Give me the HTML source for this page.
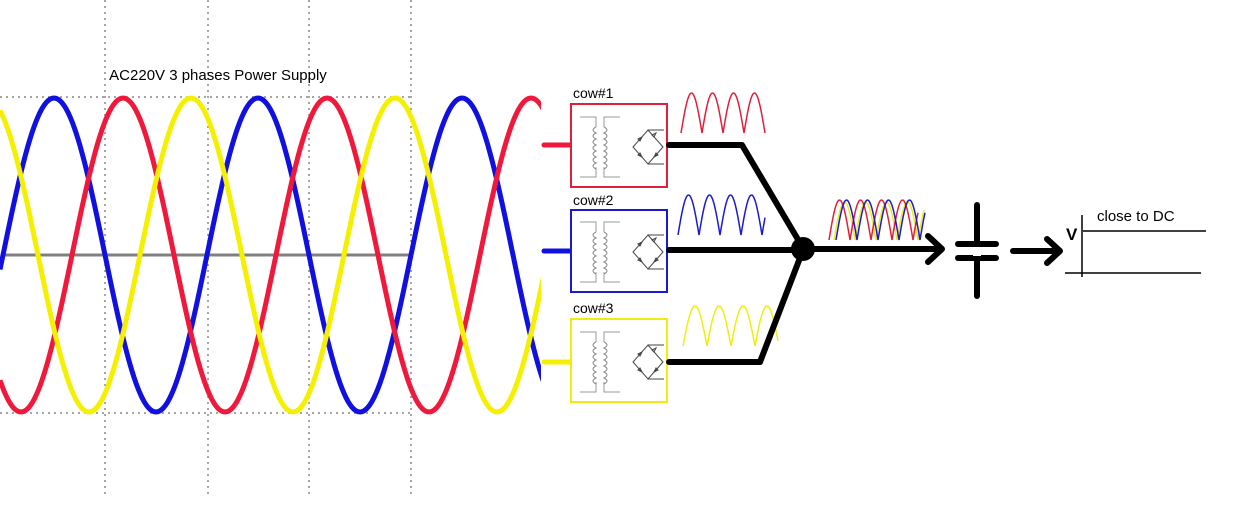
<!DOCTYPE html>
<html><head><meta charset="utf-8"><style>
html,body{margin:0;padding:0;background:#fff;}
svg{display:block;}
text{font-family:"Liberation Sans",sans-serif;}
</style></head><body>
<svg id="s" width="1252" height="513" viewBox="0 0 1252 513" xmlns="http://www.w3.org/2000/svg">
<defs><clipPath id="c"><rect x="0" y="0" width="541" height="513"/></clipPath>
<g id="tr" fill="none" stroke="#999" stroke-width="1">
<path d="M8 12 H24 V22 M8 72 H24 V62 M48 12 H32 V22 M48 72 H32 V62"/>
<path d="M24 22 q-6 3 0 6 q-6 3 0 6 q-6 3 0 6 q-6 3 0 6 q-6 3 0 6 q-6 3 0 6 q-6 3 0 6 M32 22 q6 3 0 6 q6 3 0 6 q6 3 0 6 q6 3 0 6 q6 3 0 6 q6 3 0 6 q6 3 0 6" stroke="#888"/>
<path d="M61 42 L76 25 L91 42 L76 59 Z M76 25 H92 M76 59 H92" stroke="#444"/>
<path d="M66 34 l4 -2 -2 4z M80 30 l4 -2 -2 4z M66 50 l4 2 -2 -4z M82 52 l4 -2 -2 -2z" stroke="#444"/>
</g></defs>
<g stroke="#888" stroke-width="1.5" stroke-dasharray="2,4" fill="none">
<line x1="0" y1="97" x2="411" y2="97"/><line x1="0" y1="413" x2="411" y2="413"/>
<line x1="105" y1="0" x2="105" y2="495"/><line x1="208" y1="0" x2="208" y2="495"/>
<line x1="309" y1="0" x2="309" y2="495"/><line x1="411" y1="0" x2="411" y2="495"/>
</g>
<text x="218" y="80" font-size="15" text-anchor="middle">AC220V 3 phases Power Supply</text>
<line x1="3" y1="255" x2="411" y2="255" stroke="#808080" stroke-width="3"/>
<g id="waves" clip-path="url(#c)" fill="none" stroke-width="5"></g>
<g stroke-width="5" stroke-linecap="round">
<line x1="544" y1="145" x2="571" y2="145" stroke="#f0193c"/>
<line x1="544" y1="251" x2="571" y2="251" stroke="#1010e0"/>
<line x1="544" y1="362" x2="571" y2="362" stroke="#f5f000"/>
</g>
<g fill="#fff" stroke-width="2">
<rect x="571" y="104" width="96" height="83" stroke="#e0203a"/>
<rect x="571" y="210" width="96" height="82" stroke="#1a1ad0"/>
<rect x="571" y="319" width="96" height="83" stroke="#f0ec10"/>
</g>
<use href="#tr" x="572" y="105"/><use href="#tr" x="572" y="210"/><use href="#tr" x="572" y="320"/>
<g font-size="14"><text x="573" y="98">cow#1</text><text x="573" y="205">cow#2</text><text x="573" y="313">cow#3</text></g>
<g id="rect" fill="none" stroke-width="1.5"></g>
<g stroke="#000" stroke-width="6" fill="none" stroke-linecap="round" stroke-linejoin="round">
<polyline points="669,145 742,145 803,248"/>
<line x1="669" y1="250" x2="803" y2="250"/>
<polyline points="669,362 760,362 803,250"/>
<line x1="803" y1="249" x2="940" y2="249"/>
<polyline points="928,236 942,249 928,262"/>
<line x1="977" y1="205" x2="977" y2="296"/>
<line x1="958" y1="245" x2="996" y2="245" stroke="#fff" stroke-width="6"/>
<line x1="958" y1="244" x2="996" y2="244"/>
<line x1="958" y1="258" x2="996" y2="258"/>
<line x1="1013" y1="251" x2="1058" y2="251"/>
<polyline points="1047,239 1060,251 1047,263"/>
</g>
<line x1="977" y1="247" x2="977" y2="256" stroke="#fff" stroke-width="8"/>
<circle cx="803" cy="249" r="12" fill="#000"/>
<g stroke="#000" stroke-width="1.5">
<line x1="1082" y1="215" x2="1082" y2="277"/>
<line x1="1083" y1="231" x2="1206" y2="231"/>
<line x1="1065" y1="273" x2="1201" y2="273"/>
</g>
<text x="1066" y="240" font-size="17" font-family="Liberation Serif" font-weight="bold">V</text>
<text x="1097" y="221" font-size="15">close to DC</text>
</svg>
<script>
var ns="http://www.w3.org/2000/svg";
function pl(g,pts,col,w){var p=document.createElementNS(ns,"polyline");p.setAttribute("points",pts);p.setAttribute("stroke",col);if(w)p.setAttribute("stroke-width",w);g.appendChild(p);}
var W=document.getElementById("waves");
var P=204,A=157,C=255;
[["#1010e0",54],["#f0193c",123],["#f5f000",191]].forEach(function(d){
 var s="";for(var x=0;x<=545;x+=2){var y=C-A*Math.cos(2*Math.PI*(x-d[1])/P);s+=x+","+y.toFixed(1)+" ";}
 pl(W,s,d[0]);});
var R=document.getElementById("rect");
function rw(x0,x1,yb,h,per,ph,col){var s="";for(var x=x0;x<=x1;x+=1){var y=yb-h*Math.abs(Math.sin(Math.PI*(x-ph)/per));s+=x+","+y.toFixed(1)+" ";}pl(R,s,col);}
rw(681,765,133,40,21,681,"#e0203a");
rw(678,765,235,40,21,678,"#1a1ad0");
rw(683,778,346,40,24,683,"#f0ec10");
rw(834,924,240,38,21,834,"#f0ec10");
rw(829,918,240,40,21,829,"#e0203a");
rw(836,925,240,40,21,836,"#1a1ad0");
</script>
</body></html>
